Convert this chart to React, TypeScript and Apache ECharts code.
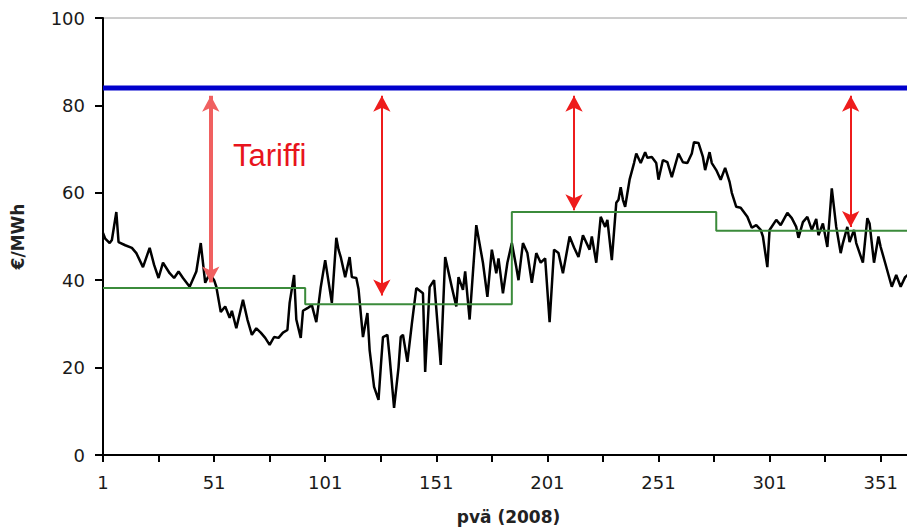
import React, { useEffect, useRef } from "react";
import * as echarts from "echarts";

// Daily spot price (€/MWh): day number and value
const priceDays = [
  1, 2, 4, 5, 7, 8, 11, 14, 16, 19, 22, 24, 26, 28, 31, 33, 35, 37, 40, 43, 45, 47, 49, 51, 52, 54, 56, 58, 59, 61,
  64, 66, 68, 70, 72, 74, 76, 78, 80, 82, 84, 85, 87, 88, 90, 91, 93, 95, 97, 99, 101, 104, 106, 107, 108, 110, 112,
  113, 115, 116, 118, 120, 121, 123, 125, 126, 127, 129, 130, 132, 134, 135, 136, 138, 140, 142, 145, 146, 148, 150,
  153, 155, 157, 158, 160, 161, 163, 164, 166, 169, 172, 174, 176, 178, 179, 181, 183, 185, 187, 188, 190, 192, 194,
  196, 198, 200, 202, 204, 206, 208, 211, 213, 215, 217, 220, 221, 223, 225, 227, 228, 230, 232, 233, 234, 235, 236,
  238, 240, 241, 243, 245, 246, 248, 250, 251, 253, 255, 257, 260, 262, 264, 266, 267, 269, 271, 272, 274, 275, 277,
  279, 281, 283, 284, 286, 288, 291, 293, 295, 297, 298, 300, 301, 304, 306, 309, 311, 313, 314, 316, 318, 320, 322,
  323, 325, 327, 329, 331, 333, 334, 336, 337, 339, 340, 343, 345, 346, 348, 350, 351, 353, 356, 358, 360, 362, 364,
  366,
];
const priceValues = [
  50.8, 49.5, 48.5, 49.2, 55.6, 48.7, 48, 47.4, 46.2, 43, 47.4, 43.5, 40.5, 44, 41.6, 40.5, 42, 40.5, 38.5, 42, 48.5,
  39.4, 41.5, 40, 38.5, 32.7, 34, 31.4, 33, 29, 35.5, 31, 27.5, 29, 28, 26.8, 25.2, 27, 26.8, 28, 28.6, 34.8, 41.2,
  31, 26.8, 33, 33.6, 34.3, 30.4, 38.4, 44.6, 34.8, 49.7, 47, 45.3, 40.7, 45.3, 40.7, 40.5, 38, 27, 32.5, 24, 15.6,
  12.6, 20, 27, 27.5, 22.4, 10.8, 20, 27, 27.5, 21.3, 30, 38.2, 37, 19, 38.4, 40, 20.6, 45.3, 40.7, 38.4, 34, 40.7,
  37.8, 42, 31, 52.6, 44, 36.2, 47, 41.6, 45, 37, 44, 48.5, 43, 40, 48.5, 46.2, 39.4, 46.2, 44, 45, 30.4, 47, 46.2,
  41.6, 50, 47.5, 45.3, 50.3, 47, 50, 44, 54.5, 52.2, 53.8, 44.6, 57.7, 58.4, 61.3, 58.4, 56.8, 63, 66.8, 69, 66.8,
  69.3, 68, 68.2, 66.8, 63, 67.5, 67, 63.6, 69, 67, 66.8, 69, 71.6, 71.4, 68.2, 65.2, 69.3, 66.8, 65.2, 63, 65.7,
  62.5, 60, 56.8, 56.6, 54.5, 52, 52.6, 51.5, 50, 43, 51.5, 53.8, 52.6, 55.4, 54.2, 52.2, 49.7, 53.3, 54.5, 51.5, 54,
  50.3, 53, 47.6, 61, 52.2, 46.2, 48.5, 52.2, 48.7, 51.5, 48.5, 44, 54.2, 53, 44, 50, 47.6, 44, 38.5, 41.2, 38.5,
  40.7, 41.5, 40,
];

// Quarterly average price (green step line)
const quarterBreaks = [1, 92, 185, 277, 366];
const quarterAverages = [38.2, 34.5, 55.6, 51.3];

// Tariff level (blue line)
const tariffLevel = 84;
const tariffDays = [1, 366];

// Red double-headed arrows: day, top and bottom values
const arrowDays = [49.5, 126.5, 213, 337.5];
const arrowTop = 82.2;
const arrowBottoms = [39.5, 36.5, 56, 52.2];

const tariffLabel = "Tariffi";
const tariffLabelPos = [59.5, 68.6];

const xTickLabels = [1, 51, 101, 151, 201, 251, 301, 351];

export default function App() {
  const ref = useRef<HTMLDivElement>(null);

  useEffect(() => {
    if (!ref.current) return;
    const chart = echarts.init(ref.current, undefined, { renderer: "svg" });

    const priceData = priceDays.map((d, i) => [d, priceValues[i]]);
    const quarterData: number[][] = [];
    quarterAverages.forEach((v, i) => {
      quarterData.push([quarterBreaks[i], v]);
      quarterData.push([quarterBreaks[i + 1], v]);
    });
    const tariffData = tariffDays.map((d) => [d, tariffLevel]);

    const labelFont = {
      fontFamily: "DejaVu Sans",
      fontSize: 18,
      color: "#1a1a1a",
    };

    chart.setOption({
      animation: false,
      grid: {
        left: 103,
        top: 18,
        right: -7,
        bottom: 72,
        show: true,
        borderColor: "#9a9a9a",
        borderWidth: 1,
        backgroundColor: "transparent",
        containLabel: false,
        outerBoundsMode: "none",
      },
      xAxis: {
        type: "value",
        min: 1,
        max: 366,
        interval: 25,
        axisLine: { lineStyle: { color: "#000", width: 2 } },
        axisTick: { length: 7, lineStyle: { color: "#000", width: 2 } },
        axisLabel: {
          ...labelFont,
          margin: 18,
          formatter: (v: number) => (xTickLabels.includes(v) ? String(v) : ""),
        },
        splitLine: { show: false },
        name: "pvä (2008)",
        nameLocation: "middle",
        nameGap: 53,
        nameTextStyle: { fontFamily: "DejaVu Sans", fontSize: 17, fontWeight: "bold", color: "#222" },
      },
      yAxis: {
        type: "value",
        min: 0,
        max: 100,
        interval: 20,
        axisLine: { show: true, lineStyle: { color: "#000", width: 2 } },
        axisTick: { show: true, length: 8, lineStyle: { color: "#000", width: 2 } },
        axisLabel: { ...labelFont, margin: 18 },
        splitLine: { show: false },
        name: "€/MWh",
        nameLocation: "middle",
        nameGap: 77,
        nameTextStyle: { fontFamily: "DejaVu Sans", fontSize: 17, fontWeight: "bold", color: "#222" },
      },
      series: [
        {
          type: "line",
          name: "price",
          data: priceData,
          showSymbol: false,
          symbol: "none",
          lineStyle: { color: "#000", width: 2.5 },
          z: 2,
        },
        {
          type: "line",
          name: "quarter",
          data: quarterData,
          showSymbol: false,
          symbol: "none",
          lineStyle: { color: "#3b8b3b", width: 2 },
          z: 3,
        },
        {
          type: "line",
          name: "tariff",
          data: tariffData,
          showSymbol: false,
          symbol: "none",
          lineStyle: { color: "#0000cc", width: 5 },
          z: 4,
          markLine: {
            silent: true,
            symbol: ["arrow", "arrow"],
            symbolSize: [13, 16],
            label: { show: false },
            lineStyle: { type: "solid", color: "#ee1c1c", width: 2 },
            data: arrowDays.map((d, i) => [
              {
                coord: [d, arrowTop],
                lineStyle: i === 0 ? { color: "#f06060", width: 4 } : undefined,
                itemStyle: i === 0 ? { color: "#f04040" } : { color: "#ee1c1c" },
              },
              { coord: [d, arrowBottoms[i]] },
            ]),
          },
        },
        {
          type: "scatter",
          name: "label",
          data: [tariffLabelPos],
          symbolSize: 1,
          itemStyle: { color: "transparent" },
          silent: true,
          label: {
            show: true,
            position: "inside",
            align: "left",
            verticalAlign: "middle",
            formatter: tariffLabel,
            fontFamily: "Liberation Sans",
            fontSize: 31,
            color: "#e8141c",
            opacity: 1,
          },
          z: 5,
        },
      ],
    });

    return () => chart.dispose();
  }, []);

  return (
    <div
      ref={ref}
      style={{ position: "fixed", left: 0, top: 0, width: 907, height: 527, background: "#fff" }}
    />
  );
}
